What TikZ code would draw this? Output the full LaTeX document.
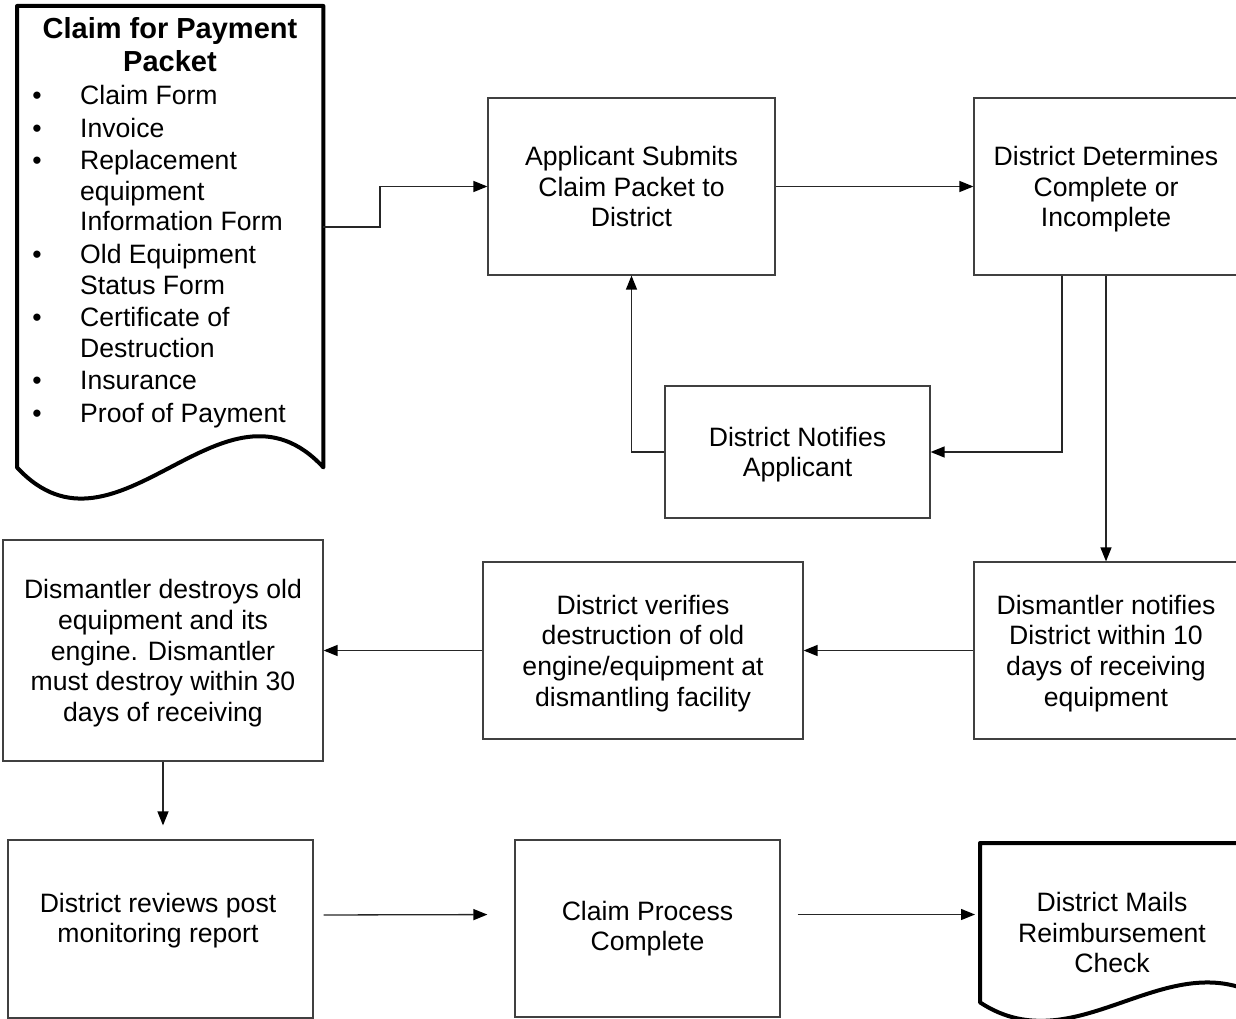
\documentclass[tikz,border=0pt]{standalone}
\usepackage{fontspec}
\setmainfont{Liberation Sans}
\usetikzlibrary{arrows.meta,calc}
\begin{document}
\begin{tikzpicture}[x=1pt,y=-1pt,
  box/.style={draw=black!75, line width=1.2pt, rectangle, inner sep=0pt, align=center, font=\fontsize{26.6}{30.6}\selectfont},
  nd/.style={text depth=0pt},
  txt/.style={inner sep=0pt, align=center, font=\fontsize{26.6}{30.6}\selectfont},
  lst/.style={inner sep=0pt, anchor=base west, font=\fontsize{26.6}{30.6}\selectfont},
  bul/.style={inner sep=0pt, anchor=base, font=\fontsize{26.6}{30.6}\selectfont},
  area/.style={inner sep=0pt, anchor=north west},
  doc/.style={draw=black, line width=4pt, line join=round},
  arr/.style={draw=black!85, line width=1.3pt, -{Triangle[length=14pt,width=11pt,black]}},
]
\useasboundingbox (0,0) rectangle (1236,1019);

% Claim for payment packet (document shape)
\node[area, minimum width=306, minimum height=461] (P) at (17,6) {};
\draw[doc] (P.south west) -- (P.north west) -- (P.north east) -- (P.south east)
  .. controls ($(P.south east)+(-100,-108)$) and ($(P.south west)+(100,108)$) .. cycle;
\node[inner sep=0pt, align=center, font=\bfseries\fontsize{29}{33}\selectfont] (title) at (170,44.5) {Claim for Payment\\Packet};
\foreach \y/\t [count=\i] in {104.5/Claim Form, 137.5/Invoice, 169.5/Replacement, 200.5/equipment,
  230.5/Information Form, 263.5/Old Equipment, 294.5/Status Form, 326.5/Certificate of,
  357.5/Destruction, 389.5/Insurance, 422.5/Proof of Payment}
  \node[lst] (item\i) at (80,\y) {\t};
\foreach \y [count=\i] in {104.5,137.5,169.5,263.5,326.5,389.5,422.5}
  \node[bul] (bullet\i) at (37,\y) {\textbullet};

% process boxes
\node[box, nd, minimum width=287, minimum height=177] (A) at (631.5,186.5) {Applicant Submits\\Claim Packet to\\District};
\node[box, nd, minimum width=264, minimum height=177] (B) at (1106,186.5) {District Determines\\Complete or\\Incomplete};
\node[box, nd, minimum width=265, minimum height=132] (C) at (797.5,452) {District Notifies\\Applicant};
\node[box, nd, minimum width=264, minimum height=177] (D) at (1106,650.5) {Dismantler notifies\\District within 10\\days of receiving\\equipment};
\node[box, nd, minimum width=320, minimum height=177] (E) at (643,650.5) {District verifies\\destruction of old\\engine/equipment at\\dismantling facility};
\node[box, nd, minimum width=320, minimum height=221] (F) at (163,650.5) {Dismantler destroys old\\equipment and its\\engine. Dismantler\\must destroy within 30\\days of receiving};
\node[box, minimum width=305, minimum height=178] (G) at (160.5,929) {};
\node[txt, nd] (Gtxt) at (158,918) {District reviews post\\monitoring report};
\node[box, minimum width=265, minimum height=177] (H) at (647.5,928.5) {Claim Process\\Complete};

% final document shape
\node[area, minimum width=290, minimum height=159] (I) at (980,843) {};
\draw[doc] (I.south west) -- (I.north west) -- (I.north east) -- (I.south east)
  .. controls ($(I.south east)+(-99,-68)$) and ($(I.south west)+(99,65)$) .. cycle;
\node[txt] (Itxt) at (1112,932.5) {District Mails\\Reimbursement\\Check};

% connectors
\coordinate (Pout) at (323,227);
\draw[arr] (Pout) -- ++(57,0) |- (A.west);
\draw[arr] (A.east) -- (B.west);
\draw[arr] ($(B.south)+(-44,0)$) |- (C.east);
\draw[arr] (C.west) -| (A.south);
\draw[arr] (B.south) -- (D.north);
\draw[arr] (D.west) -- (E.east);
\draw[arr] (E.west) -- (F.east);
\draw[arr, shorten >=14pt] (F.south) -- (F.south |- G.north);
\draw[arr, shorten <=10pt, shorten >=27pt] ([yshift=14pt]G.east) -- ([yshift=14pt]H.west);
\draw[arr, shorten <=17pt, shorten >=5pt] ([yshift=14pt]H.east) -- ([yshift=14pt]H.east -| I.west);
\end{tikzpicture}
\end{document}
